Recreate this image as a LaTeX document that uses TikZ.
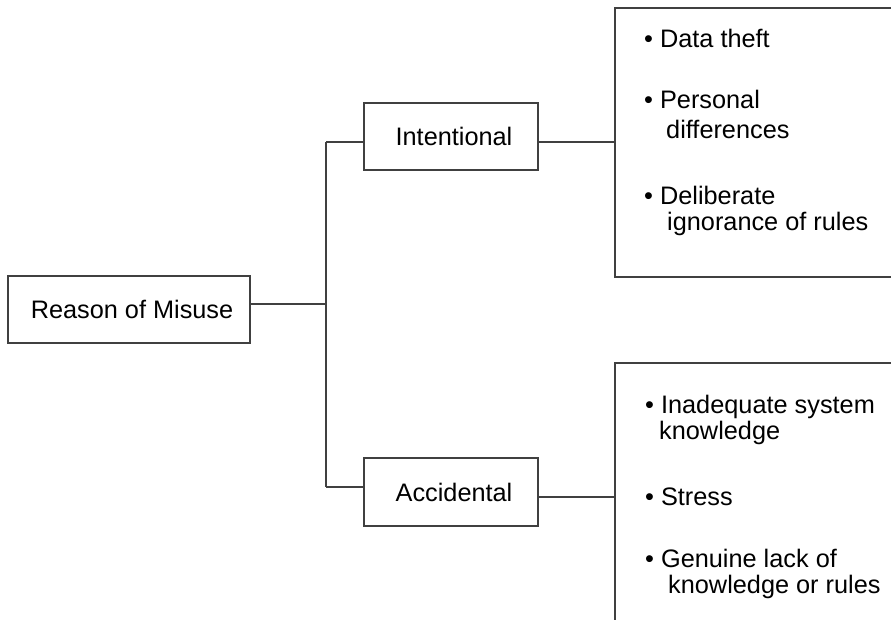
\documentclass[tikz,border=0pt]{standalone}
\usepackage{fontspec}
\setmainfont{Liberation Sans}
\definecolor{linegray}{RGB}{64,64,64}
\tikzset{
  box/.style={draw=linegray, line width=1.7pt, fill=white, inner sep=0pt,
              font=\fontsize{25.3}{29}\selectfont},
  listbox/.style={draw=linegray, line width=1.7pt, inner sep=0pt, anchor=north west},
  item/.style={anchor=base west, inner sep=0pt,
               font=\fontsize{25.3}{29}\selectfont},
  wire/.style={draw=linegray, line width=1.7pt}
}
\begin{document}
\begin{tikzpicture}[x=1pt,y=-1pt]
  \useasboundingbox (0,0) rectangle (891,620);
  \clip (0,0) rectangle (891,620);

  % root and the two branches
  \node[box, minimum width=242pt, minimum height=67pt] (reason) at (129,309.5) {\hspace*{6pt}Reason of Misuse};
  \node[box, minimum width=174pt, minimum height=67pt] (intent) at (451,136.5) {\hspace*{6pt}Intentional};
  \node[box, minimum width=174pt, minimum height=68pt] (accid) at (451,492) {\hspace*{6pt}Accidental};

  % list boxes (open to the right / bottom)
  \node[listbox, minimum width=300pt, minimum height=269pt] (ibox) at (614,7) {};
  \node[listbox, minimum width=300pt, minimum height=300pt] (abox) at (614,362) {};

  % junction points of the bracket
  \coordinate (jmid) at (326,304);
  \coordinate (jtop) at (326,142);
  \coordinate (jbot) at (326,487);
  \coordinate (arow) at (0,497);

  \draw[wire] (reason.east |- jmid) -- (jmid);
  \draw[wire] (jtop) -- (jbot);
  \draw[wire] (jtop) -- (intent.west |- jtop);
  \draw[wire] (jbot) -- (accid.west |- jbot);
  \draw[wire] (intent.east |- jtop) -- (ibox.west |- jtop);
  \draw[wire] (accid.east |- arow) -- (abox.west |- arow);

  % intentional reasons
  \node[item] (i1)  at (644,48)  {• Data theft};
  \node[item] (i2)  at (644,109) {• Personal};
  \node[item] (i2b) at (666,139) {differences};
  \node[item] (i3)  at (644,205) {• Deliberate};
  \node[item] (i3b) at (667,231) {ignorance of rules};

  % accidental reasons
  \node[item] (a1)  at (645,413) {• Inadequate system};
  \node[item] (a1b) at (659,439) {knowledge};
  \node[item] (a2)  at (645,505) {• Stress};
  \node[item] (a3)  at (645,567) {• Genuine lack of};
  \node[item] (a3b) at (668,593) {knowledge or rules};
\end{tikzpicture}
\end{document}
